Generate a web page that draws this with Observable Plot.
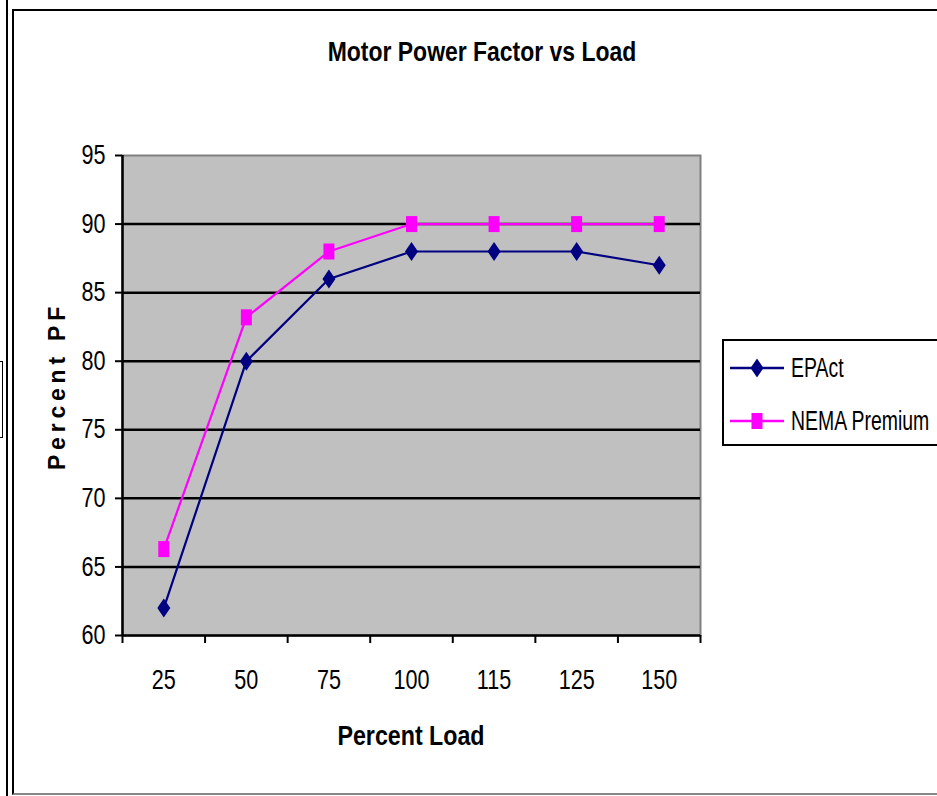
<!DOCTYPE html>
<html>
<head>
<meta charset="utf-8">
<script src="https://cdn.jsdelivr.net/npm/d3@7"></script>
<script src="https://cdn.jsdelivr.net/npm/@observablehq/plot@0.6"></script>
<style>
  body { margin: 0; background: white; }
  #wrap { position: relative; width: 937px; height: 796px; overflow: hidden; background: white; font-family: "Liberation Sans", Arial, sans-serif; }
  .cond { position: absolute; white-space: nowrap; line-height: 1; font-weight: bold; color: black; }
  #title { left: 482px; top: 39px; font-size: 27px; transform: translateX(-50%) scaleX(0.85); }
  #xlabel { left: 411px; top: 723px; font-size: 27px; transform: translateX(-50%) scaleX(0.86); }
  #ylabel { position: absolute; left: 57px; top: 386px; transform: translate(-50%, -50%) rotate(-90deg); font-weight: bold; font-size: 23px; letter-spacing: 4.8px; white-space: nowrap; }
  #legend { position: absolute; left: 722px; top: 339px; width: 240px; height: 103px; border: 2px solid black; background: white; }
  .item { position: absolute; left: 6px; height: 30px; display: flex; align-items: center; white-space: nowrap; }
  .item span { display: inline-block; font-size: 27px; transform: scaleX(0.72); transform-origin: left center; }
  .item svg { margin-right: 7px; }
</style>
</head>
<body>
<div id="wrap">
  <div style="position:absolute;left:6px;top:0;width:2px;height:796px;background:black"></div>
  <div style="position:absolute;left:12px;top:9px;width:940px;height:782px;border-left:2px solid black;border-top:2px solid black;border-bottom:2px solid #888"></div>
  <div style="position:absolute;left:-5px;top:361px;width:6px;height:75px;border:1.5px solid black"></div>
  <div id="chart" style="position:absolute;left:0;top:0"></div>
  <div id="title" class="cond">Motor Power Factor vs Load</div>
  <div id="xlabel" class="cond">Percent Load</div>
  <div id="ylabel">Percent PF</div>
  <div id="legend"></div>
</div>
<script>
// Data
const loads = ["25", "50", "75", "100", "115", "125", "150"];
const epact = [62, 80, 86, 88, 88, 88, 87];
const nema = [66.3, 83.2, 88, 90, 90, 90, 90];
const yTicks = [60, 65, 70, 75, 80, 85, 90, 95];
const gridValues = [65, 70, 75, 80, 85, 90];
const seriesNames = ["EPAct", "NEMA Premium"];
const colors = ["#000080", "#ff00ff"];

const rows = [];
loads.forEach((l, i) => {
  rows.push({series: seriesNames[0], idx: i, load: l, value: epact[i]});
  rows.push({series: seriesNames[1], idx: i, load: l, value: nema[i]});
});

// custom symbols (fixed pixel size)
const diamondSym = { draw(ctx) { const w = 6.5, h = 9.5; ctx.moveTo(0, -h); ctx.lineTo(w, 0); ctx.lineTo(0, h); ctx.lineTo(-w, 0); ctx.closePath(); } };
const rectSym = { draw(ctx) { const w = 5.5, h = 8; ctx.moveTo(-w, -h); ctx.lineTo(w, -h); ctx.lineTo(w, h); ctx.lineTo(-w, h); ctx.closePath(); } };

const chart = Plot.plot({
  width: 937,
  height: 796,
  marginLeft: 122,
  marginRight: 237,
  marginTop: 155,
  marginBottom: 161,
  style: { fontFamily: '"Liberation Sans", Arial, sans-serif', fontSize: "27px", color: "black", background: "transparent" },
  x: { type: "linear", domain: [0, loads.length], axis: null },
  y: { domain: [60, 95], axis: null },
  marks: [
    Plot.frame({ fill: "#c0c0c0", stroke: "#808080", strokeWidth: 2 }),
    Plot.ruleY(gridValues, { stroke: "black", strokeWidth: 2.5 }),
    Plot.axisY({ ticks: yTicks, tickSize: 7, tickPadding: 10, stroke: "black", strokeWidth: 2, label: null, fontSize: 27, tickFormat: d => String(d) }),
    Plot.axisX({ ticks: d3.range(loads.length + 1), tickSize: 8, tickFormat: () => "", label: null, stroke: "black", strokeWidth: 2 }),
    Plot.axisX({ ticks: loads.map((_, i) => i + 0.5), tickSize: 0, tickPadding: 34, tickFormat: d => loads[Math.floor(d)], label: null, fontSize: 27 }),
    Plot.ruleX([0], { stroke: "black", strokeWidth: 2.5 }),
    Plot.ruleY([60], { stroke: "black", strokeWidth: 2.5 }),
    Plot.line(rows, { x: d => d.idx + 0.5, y: "value", z: "series", stroke: d => d.series === seriesNames[0] ? colors[0] : colors[1], strokeWidth: 2.2 }),
    Plot.dot(rows.filter(d => d.series === seriesNames[0]), { x: d => d.idx + 0.5, y: "value", symbol: diamondSym, fill: colors[0], stroke: "none", r: 5 }),
    Plot.dot(rows.filter(d => d.series === seriesNames[1]), { x: d => d.idx + 0.5, y: "value", symbol: rectSym, fill: colors[1], stroke: "none", r: 5 })
  ]
});
// condense tick label text horizontally (narrow font look)
chart.querySelectorAll("text").forEach(el => {
  const t = el.getAttribute("transform") || "";
  const x = +el.getAttribute("x") || 0, y = +el.getAttribute("y") || 0;
  el.setAttribute("transform", `${t} translate(${x},${y}) scale(0.8,1) translate(${-x},${-y})`);
});
document.getElementById("chart").appendChild(chart);

// Legend
const legend = document.getElementById("legend");
const markerSvg = (i) => {
  const shape = i === 0
    ? '<path d="M27,4.5 L33.5,14 L27,23.5 L20.5,14 Z" fill="' + colors[0] + '"/>'
    : '<rect x="21.5" y="6" width="11" height="16" fill="' + colors[1] + '"/>';
  return '<svg width="54" height="28"><line x1="0" x2="54" y1="14" y2="14" stroke="' + colors[i] + '" stroke-width="2.5"/>' + shape + '</svg>';
};
seriesNames.forEach((name, i) => {
  const div = document.createElement("div");
  div.className = "item";
  div.style.top = (i === 0 ? 12 : 65) + "px";
  div.innerHTML = markerSvg(i) + "<span>" + name + "</span>";
  legend.appendChild(div);
});
</script>
</body>
</html>
